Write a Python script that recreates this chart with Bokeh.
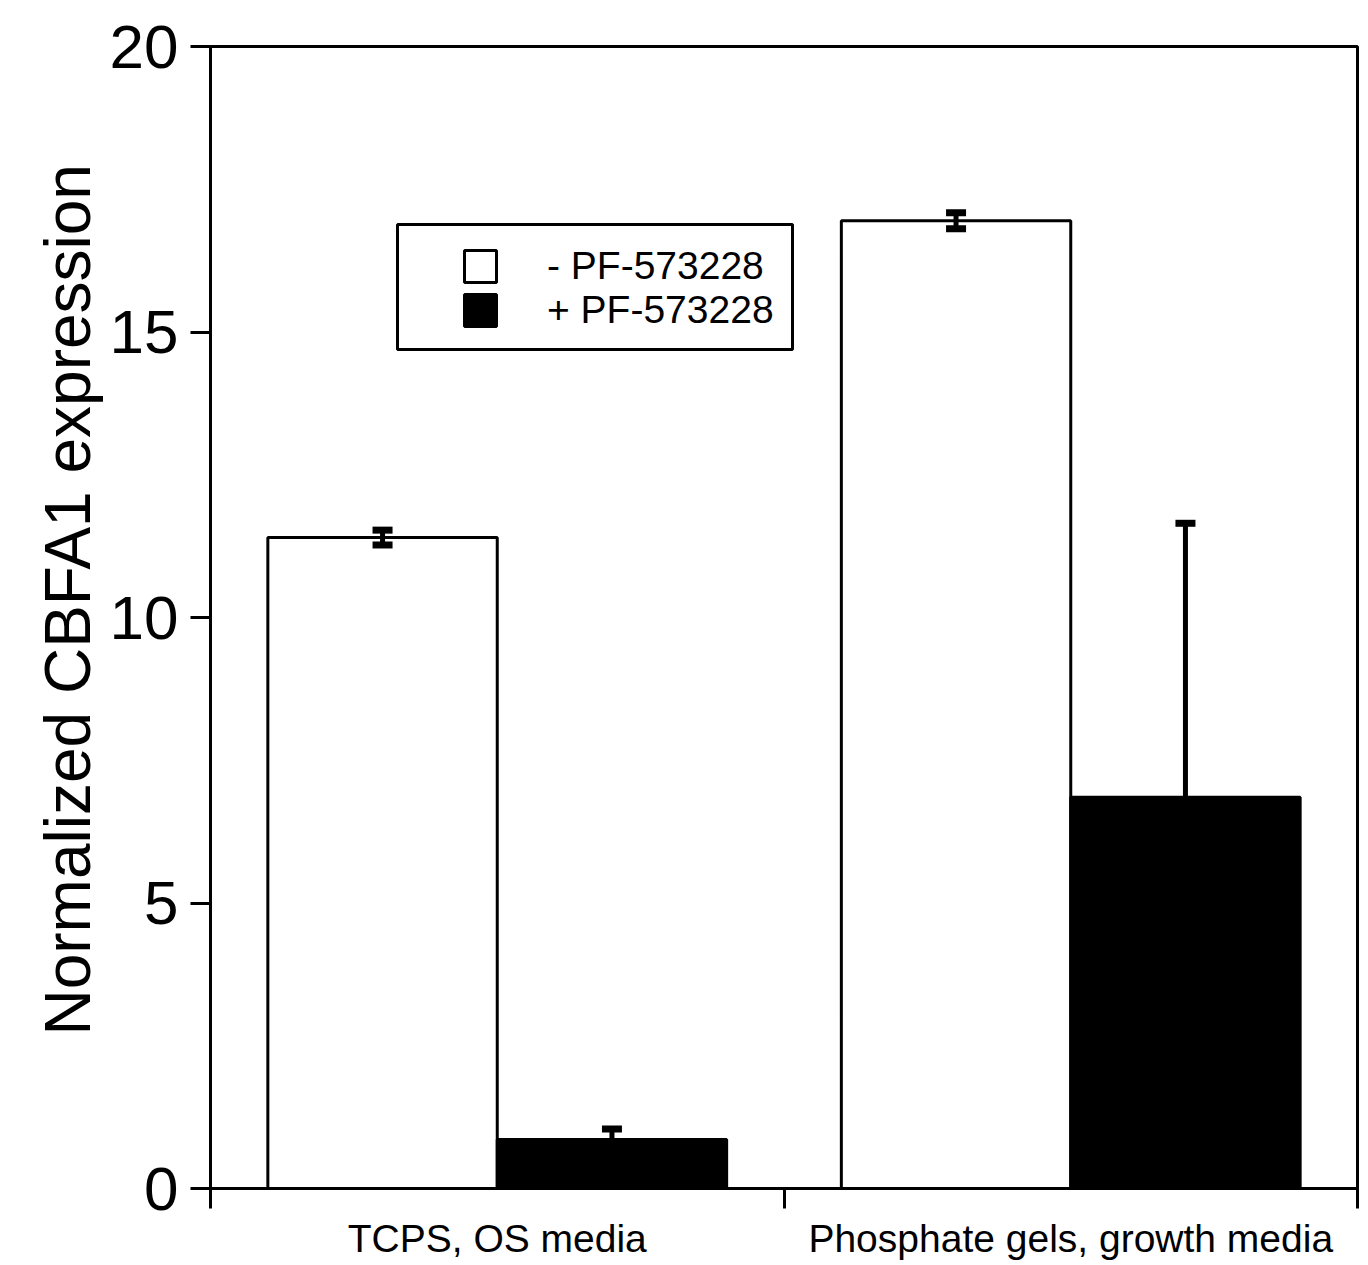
from bokeh.plotting import figure
from bokeh.models import (ColumnDataSource, Range1d, LinearAxis, FixedTicker, Title,
                          Whisker, TeeHead, Legend, LegendItem, BoxAnnotation)
from bokeh.transform import dodge
from bokeh.embed import file_html
from bokeh.resources import INLINE

categories = ["TCPS, OS media", "Phosphate gels, growth media"]
minus_vals = [11.40, 16.95]
minus_err = [0.13, 0.14]
plus_vals = [0.86, 6.85]
plus_err = [0.18, 4.80]
series_labels = ["- PF-573228", "+ PF-573228"]
y_ticks = [0, 5, 10, 15, 20]
y_title = "Normalized CBFA1 expression"

FONT = "Liberation Sans"

# category slots: category i occupies [i, i+1], centred at i + 0.5
centers = [i + 0.5 for i in range(len(categories))]
bounds = [float(i) for i in range(len(categories) + 1)]

src = ColumnDataSource(dict(
    pos=centers,
    cat=categories,
    minus=minus_vals,
    minus_lo=[v - e for v, e in zip(minus_vals, minus_err)],
    minus_hi=[v + e for v, e in zip(minus_vals, minus_err)],
    plus=plus_vals,
    plus_lo=[v - e for v, e in zip(plus_vals, plus_err)],
    plus_hi=[v + e for v, e in zip(plus_vals, plus_err)],
))

p = figure(width=1362, height=1264, x_range=Range1d(0, len(categories)),
           y_range=Range1d(0, 20), output_backend="svg", toolbar_location=None,
           x_axis_location=None, y_axis_location=None,
           min_border_left=210, min_border_right=5, min_border_top=46, min_border_bottom=76)
p.xgrid.visible = False
p.ygrid.visible = False
p.outline_line_color = "black"
p.outline_line_width = 3
p.background_fill_color = "white"
p.border_fill_color = "white"

r1 = p.vbar(x=dodge("pos", -0.2), top="minus", width=0.4, source=src,
            fill_color="white", line_color="black", line_width=3)
r2 = p.vbar(x=dodge("pos", 0.2), top="plus", width=0.4, source=src,
            fill_color="black", line_color="black", line_width=3)

for base_off, lo, hi in [(-0.2, "minus_lo", "minus_hi"), (0.2, "plus_lo", "plus_hi")]:
    w = Whisker(base=dodge("pos", base_off), lower=lo, upper=hi, source=src,
                line_color="black", line_width=5, level="overlay",
                upper_head=TeeHead(size=20, line_width=7, line_color="black"),
                lower_head=TeeHead(size=20, line_width=7, line_color="black"))
    p.add_layout(w)

# y axis
yax = LinearAxis(ticker=FixedTicker(ticks=y_ticks, minor_ticks=[]))
yax.axis_line_width = 3
yax.major_tick_line_width = 3
yax.major_tick_in = 0
yax.major_tick_out = 20
yax.minor_tick_line_color = None
yax.major_label_text_font = FONT
yax.major_label_text_font_size = "62px"
yax.major_label_text_color = "black"
yax.major_label_standoff = 12
p.add_layout(yax, "left")

# y title as a side title so it can sit where the original has it
ytitle = Title(text=y_title, align="left", offset=153, standoff=5,
               text_font=FONT, text_font_size="64px", text_font_style="normal",
               text_color="black")
p.add_layout(ytitle, "left")

# x axis: labels at category centres, ticks at category boundaries
xax = LinearAxis(ticker=FixedTicker(ticks=centers, minor_ticks=bounds),
                 major_label_overrides={c: lab for c, lab in zip(centers, categories)})
xax.axis_line_width = 3
xax.major_tick_in = 0
xax.major_tick_out = 0
xax.major_tick_line_color = None
xax.minor_tick_in = 0
xax.minor_tick_out = 20
xax.minor_tick_line_width = 3
xax.minor_tick_line_color = "black"
xax.major_label_text_font = FONT
xax.major_label_text_font_size = "39px"
xax.major_label_text_color = "black"
xax.major_label_standoff = 8
p.add_layout(xax, "below")

# legend frame and legend
box = BoxAnnotation(left=187, right=582, top=964, bottom=839,
                    left_units="screen", right_units="screen",
                    top_units="screen", bottom_units="screen",
                    fill_color="white", fill_alpha=1, line_color="black", line_alpha=1,
                    line_width=3, level="annotation")
p.add_layout(box)

legend = Legend(items=[LegendItem(label=series_labels[0], renderers=[r1]),
                       LegendItem(label=series_labels[1], renderers=[r2])],
                location=(250, 856), glyph_width=40, glyph_height=40, label_standoff=47,
                label_text_font=FONT, label_text_font_size="39px", label_text_color="black",
                padding=0, spacing=0, margin=0,
                border_line_alpha=0, background_fill_alpha=0)
p.add_layout(legend, "center")

open("out.html", "w").write(file_html(p, INLINE))
